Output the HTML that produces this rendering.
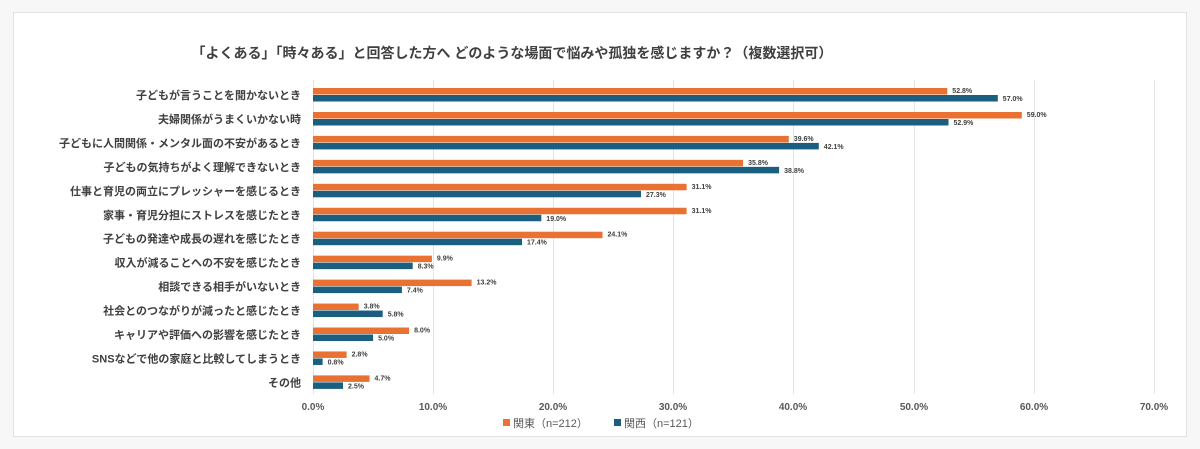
<!DOCTYPE html>
<html><head><meta charset="utf-8"><style>
body{margin:0;background:#fff;}
svg{display:block;font-family:"Liberation Sans","Noto Sans CJK JP",sans-serif;}
.c{font-size:11px;font-weight:bold;fill:#404040;text-anchor:end}
.v{font-size:7px;font-weight:bold;fill:#404040}
.o{fill:#e97132}.b{fill:#1a5e80}
</style></head><body>
<svg width="1200" height="449" viewBox="0 0 1200 449">
<rect x="0" y="0" width="1200" height="449" fill="#f7f7f7"/>
<rect x="13.5" y="12.5" width="1173" height="424" fill="#fff" stroke="#e2e2e2"/>
<text x="512" y="58" text-anchor="middle" font-size="14" font-weight="bold" fill="#404040">「よくある」「時々ある」と回答した方へ どのような場面で悩みや孤独を感じますか？（複数選択可）</text>
<g stroke="#e4e4e4" stroke-width="1">
<line x1="313.5" y1="80" x2="313.5" y2="394"/><line x1="433.5" y1="80" x2="433.5" y2="394"/><line x1="553.5" y1="80" x2="553.5" y2="394"/><line x1="673.5" y1="80" x2="673.5" y2="394"/><line x1="793.5" y1="80" x2="793.5" y2="394"/><line x1="914.5" y1="80" x2="914.5" y2="394"/><line x1="1034.5" y1="80" x2="1034.5" y2="394"/><line x1="1154.5" y1="80" x2="1154.5" y2="394"/>
</g>
<g font-size="10" font-weight="bold" fill="#595959" text-anchor="middle">
<text x="313" y="410">0.0%</text><text x="433" y="410">10.0%</text><text x="553" y="410">20.0%</text><text x="673" y="410">30.0%</text><text x="793" y="410">40.0%</text><text x="914" y="410">50.0%</text><text x="1034" y="410">60.0%</text><text x="1154" y="410">70.0%</text>
</g>

<g transform="translate(0,88)"><text class="c" x="301" y="11">子どもが言うことを聞かないとき</text><rect class="o" x="313" y="0" width="634.3" height="6.5"/><rect class="b" x="313" y="7" width="684.8" height="6.5"/><text class="v" x="952.3" y="5">52.8%</text><text class="v" x="1002.8" y="13">57.0%</text></g>
<g transform="translate(0,112)"><text class="c" x="301" y="11">夫婦関係がうまくいかない時</text><rect class="o" x="313" y="0" width="708.8" height="6.5"/><rect class="b" x="313" y="7" width="635.5" height="6.5"/><text class="v" x="1026.8" y="5">59.0%</text><text class="v" x="953.5" y="13">52.9%</text></g>
<g transform="translate(0,135.9)"><text class="c" x="301" y="11">子どもに人間関係・メンタル面の不安があるとき</text><rect class="o" x="313" y="0" width="475.8" height="6.5"/><rect class="b" x="313" y="7" width="505.8" height="6.5"/><text class="v" x="793.8" y="5">39.6%</text><text class="v" x="823.8" y="13">42.1%</text></g>
<g transform="translate(0,159.85)"><text class="c" x="301" y="11">子どもの気持ちがよく理解できないとき</text><rect class="o" x="313" y="0" width="430.1" height="6.5"/><rect class="b" x="313" y="7" width="466.1" height="6.5"/><text class="v" x="748.1" y="5">35.8%</text><text class="v" x="784.1" y="13">38.8%</text></g>
<g transform="translate(0,183.8)"><text class="c" x="301" y="11">仕事と育児の両立にプレッシャーを感じるとき</text><rect class="o" x="313" y="0" width="373.6" height="6.5"/><rect class="b" x="313" y="7" width="328" height="6.5"/><text class="v" x="691.6" y="5">31.1%</text><text class="v" x="646" y="13">27.3%</text></g>
<g transform="translate(0,207.75)"><text class="c" x="301" y="11">家事・育児分担にストレスを感じたとき</text><rect class="o" x="313" y="0" width="373.6" height="6.5"/><rect class="b" x="313" y="7" width="228.3" height="6.5"/><text class="v" x="691.6" y="5">31.1%</text><text class="v" x="546.3" y="13">19.0%</text></g>
<g transform="translate(0,231.7)"><text class="c" x="301" y="11">子どもの発達や成長の遅れを感じたとき</text><rect class="o" x="313" y="0" width="289.5" height="6.5"/><rect class="b" x="313" y="7" width="209" height="6.5"/><text class="v" x="607.5" y="5">24.1%</text><text class="v" x="527" y="13">17.4%</text></g>
<g transform="translate(0,255.65)"><text class="c" x="301" y="11">収入が減ることへの不安を感じたとき</text><rect class="o" x="313" y="0" width="118.9" height="6.5"/><rect class="b" x="313" y="7" width="99.7" height="6.5"/><text class="v" x="436.9" y="5">9.9%</text><text class="v" x="417.7" y="13">8.3%</text></g>
<g transform="translate(0,279.6)"><text class="c" x="301" y="11">相談できる相手がいないとき</text><rect class="o" x="313" y="0" width="158.6" height="6.5"/><rect class="b" x="313" y="7" width="88.9" height="6.5"/><text class="v" x="476.6" y="5">13.2%</text><text class="v" x="406.9" y="13">7.4%</text></g>
<g transform="translate(0,303.55)"><text class="c" x="301" y="11">社会とのつながりが減ったと感じたとき</text><rect class="o" x="313" y="0" width="45.7" height="6.5"/><rect class="b" x="313" y="7" width="69.7" height="6.5"/><text class="v" x="363.7" y="5">3.8%</text><text class="v" x="387.7" y="13">5.8%</text></g>
<g transform="translate(0,327.5)"><text class="c" x="301" y="11">キャリアや評価への影響を感じたとき</text><rect class="o" x="313" y="0" width="96.1" height="6.5"/><rect class="b" x="313" y="7" width="60.1" height="6.5"/><text class="v" x="414.1" y="5">8.0%</text><text class="v" x="378.1" y="13">5.0%</text></g>
<g transform="translate(0,351.45)"><text class="c" x="301" y="11">SNSなどで他の家庭と比較してしまうとき</text><rect class="o" x="313" y="0" width="33.6" height="6.5"/><rect class="b" x="313" y="7" width="9.6" height="6.5"/><text class="v" x="351.6" y="5">2.8%</text><text class="v" x="327.6" y="13">0.8%</text></g>
<g transform="translate(0,375.4)"><text class="c" x="301" y="11">その他</text><rect class="o" x="313" y="0" width="56.5" height="6.5"/><rect class="b" x="313" y="7" width="30" height="6.5"/><text class="v" x="374.5" y="5">4.7%</text><text class="v" x="348" y="13">2.5%</text></g>

<g font-size="11" fill="#595959">
<rect x="503" y="419" width="7" height="7" fill="#e97132"/><text x="513" y="427">関東（n=212）</text>
<rect x="614" y="419" width="7" height="7" fill="#1a5e80"/><text x="624" y="427">関西（n=121）</text>
</g>
</svg>
</body></html>
